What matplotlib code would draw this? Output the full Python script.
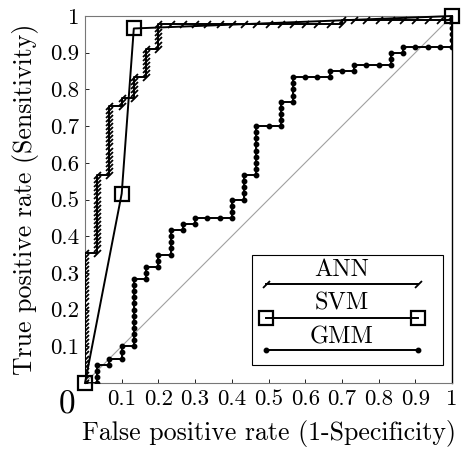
import numpy as np
import matplotlib
matplotlib.use('Agg')
import matplotlib.pyplot as plt
from matplotlib.patches import Rectangle

# ROC points as (false positive count, true positive count)
n_neg = 30
gmm_pos = 60
ann_pos = 90

gmm_fp = [0, 1, 1, 1, 1, 2, 2, 3, 3, 3,
          4, 4, 4, 4, 4, 4, 4, 4, 4, 4, 4, 4,
          5, 5, 5, 6, 6, 6, 7, 7, 7, 7, 7, 8, 8, 9, 9, 10, 11,
          12, 12, 12, 12, 13, 13, 13, 13, 13,
          14, 14, 14, 14, 14, 14, 14, 14, 14, 15,
          16, 16, 16, 16, 16, 17, 17, 17, 17, 17, 18, 19, 20, 20, 21, 22, 22, 23, 24,
          25, 25, 25, 26, 26, 27, 28, 29, 30, 30, 30, 30, 30, 30]
gmm_tp = [0, 0, 1, 2, 3, 3, 4, 4, 5, 6,
          6, 7, 8, 9, 10, 11, 12, 13, 14, 15, 16, 17,
          17, 18, 19, 19, 20, 21, 21, 22, 23, 24, 25, 25, 26, 26, 27, 27, 27,
          27, 28, 29, 30, 30, 31, 32, 33, 34,
          34, 35, 36, 37, 38, 39, 40, 41, 42, 42,
          42, 43, 44, 45, 46, 46, 47, 48, 49, 50, 50, 50, 50, 51, 51, 51, 52, 52, 52,
          52, 53, 54, 54, 55, 55, 55, 55, 55, 56, 57, 58, 59, 60]

ann_fp = [0, 0, 0, 0, 0, 0, 0, 0, 0, 0, 0, 0, 0, 0, 0, 0, 0,
          0, 0, 0, 0, 0, 0, 0, 0, 0, 0, 0, 0, 0, 0, 0, 0,
          1, 1, 1, 1, 1, 1, 1, 1, 1, 1, 1, 1, 1, 1, 1, 1, 1, 1, 1, 1,
          2, 2, 2, 2, 2, 2, 2, 2, 2, 2, 2, 2, 2, 2, 2, 2, 2, 2,
          3, 3, 3, 4, 4, 4, 4, 4, 4,
          5, 5, 5, 5, 5, 5, 5, 5, 6, 6, 6, 6, 6, 6, 6,
          7, 8, 9, 10, 11, 12, 13, 14, 15, 16, 17, 18, 19, 20,
          21, 21, 22, 23, 24, 25, 26, 27, 28, 29, 30, 30]
ann_tp = [0, 1, 2, 3, 4, 5, 6, 7, 8, 9, 10, 11, 12, 13, 14, 15, 16,
          17, 18, 19, 20, 21, 22, 23, 24, 25, 26, 27, 28, 29, 30, 31, 32,
          32, 33, 34, 35, 36, 37, 38, 39, 40, 41, 42, 43, 44, 45, 46, 47, 48, 49, 50, 51,
          51, 52, 53, 54, 55, 56, 57, 58, 59, 60, 61, 62, 63, 64, 65, 66, 67, 68,
          68, 69, 70, 70, 71, 72, 73, 74, 75,
          75, 76, 77, 78, 79, 80, 81, 82, 82, 83, 84, 85, 86, 87, 88,
          88, 88, 88, 88, 88, 88, 88, 88, 88, 88, 88, 88, 88, 88,
          88, 89, 89, 89, 89, 89, 89, 89, 89, 89, 89, 90]

svm_fpr = [0.0, 0.1, 0.133, 1.0]
svm_tpr = [0.0, 0.516, 0.966, 1.0]

tick_vals = [0.1, 0.2, 0.3, 0.4, 0.5, 0.6, 0.7, 0.8, 0.9, 1.0]
tick_labels = ['0.1', '0.2', '0.3', '0.4', '0.5', '0.6', '0.7', '0.8', '0.9', '1']

plt.rcParams['font.family'] = 'cmr10'
plt.rcParams['mathtext.fontset'] = 'cm'
plt.rcParams['axes.formatter.use_mathtext'] = True

gmm_x = np.array(gmm_fp) / n_neg
gmm_y = np.array(gmm_tp) / gmm_pos
ann_x = np.array(ann_fp) / n_neg
ann_y = np.array(ann_tp) / ann_pos

slash = [(-1, -1), (1, 1)]

fig = plt.figure(figsize=(4.62, 4.51), dpi=100)
ax = fig.add_axes([85 / 462, 68 / 451, 367 / 462, 367 / 451])

ax.plot([0, 1], [0, 1], color='#a0a0a0', lw=0.8, zorder=1)
ax.plot(gmm_x, gmm_y, color='k', lw=1.4, marker='o', ms=3.2, zorder=3)
ax.plot(ann_x, ann_y, color='k', lw=1.4, marker=slash, ms=5, mew=1.3, zorder=4)
ax.plot(svm_fpr, svm_tpr, color='k', lw=1.4, marker='s', ms=9.5, mfc='none',
        mew=1.6, zorder=5, clip_on=False)

ax.set_xlim(0, 1)
ax.set_ylim(0, 1)
ax.set_xticks(tick_vals)
ax.set_xticklabels(tick_labels)
ax.set_yticks(tick_vals)
ax.set_yticklabels(tick_labels)
ax.tick_params(direction='in', length=3, width=0.6, labelsize=16.5)
ax.tick_params(axis='x', pad=5)
ax.tick_params(axis='y', pad=4)

for side in ['left', 'top', 'bottom']:
    ax.spines[side].set_color('#777777')
    ax.spines[side].set_linewidth(0.8)
ax.spines['right'].set_color('k')
ax.spines['right'].set_linewidth(1.0)

ax.set_xlabel('False positive rate (1-Specificity)', fontsize=18.6)
ax.set_ylabel('True positive rate (Sensitivity)', fontsize=18.6)
ax.xaxis.set_label_coords(0.5, -0.1)
ax.yaxis.set_label_coords(-0.125, 0.5)

ax.text(-0.049, -0.06, '0', fontsize=24, ha='center', va='center',
        transform=ax.transAxes)

# legend: labels sit above their line samples
ax.add_patch(Rectangle((0.455, 0.049), 0.52, 0.30, transform=ax.transAxes,
                       facecolor='white', edgecolor='k', lw=0.8, zorder=6))
x0, x1 = 0.493, 0.907
ax.text(0.7, 0.308, 'ANN', fontsize=17.6, ha='center', va='center',
        transform=ax.transAxes, zorder=7)
ax.plot([x0, x1], [0.27, 0.27], color='k', lw=1.4, marker=slash, ms=5,
        mew=1.3, transform=ax.transAxes, zorder=7)
ax.text(0.7, 0.218, 'SVM', fontsize=17.6, ha='center', va='center',
        transform=ax.transAxes, zorder=7)
ax.plot([x0, x1], [0.177, 0.177], color='k', lw=1.4, marker='s', ms=9.5,
        mfc='none', mew=1.6, transform=ax.transAxes, zorder=7)
ax.text(0.7, 0.125, 'GMM', fontsize=17.6, ha='center', va='center',
        transform=ax.transAxes, zorder=7)
ax.plot([x0, x1], [0.09, 0.09], color='k', lw=1.4, marker='o', ms=3.2,
        transform=ax.transAxes, zorder=7)

fig.savefig('out.png', dpi=100)
